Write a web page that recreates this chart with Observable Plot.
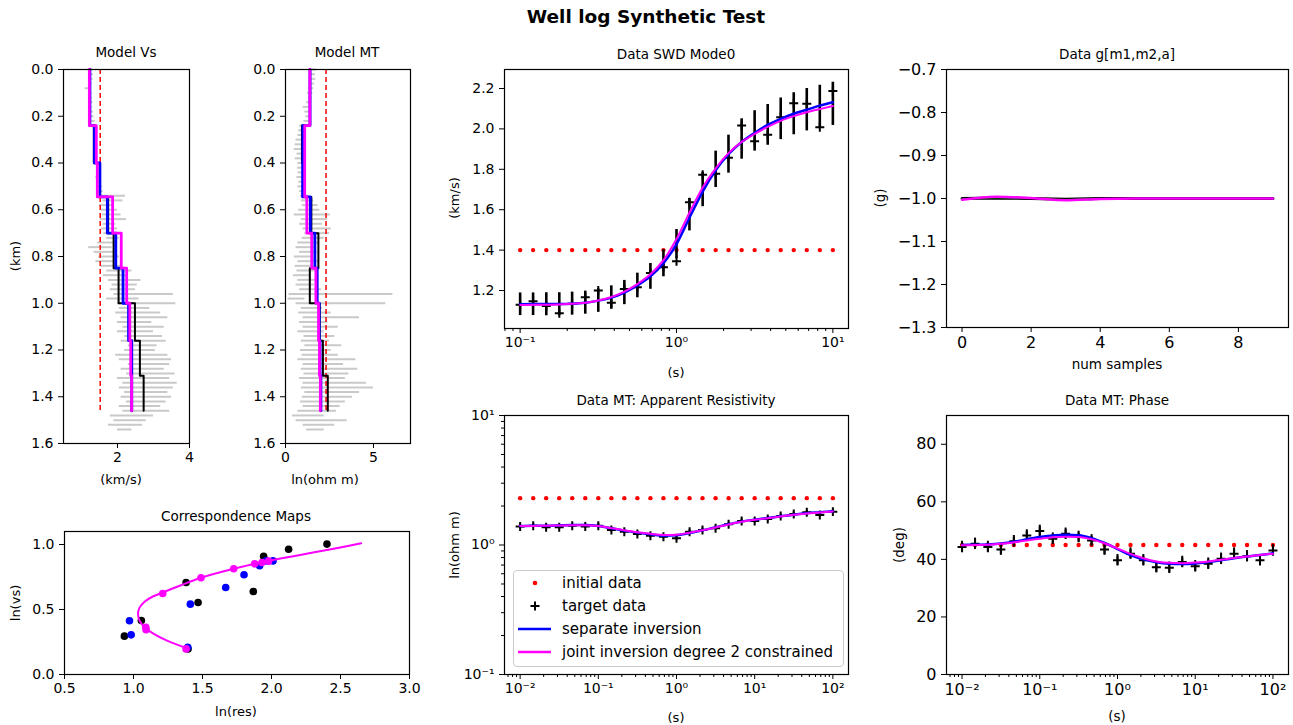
<!DOCTYPE html>
<html><head><meta charset="utf-8">
<script src="https://cdn.jsdelivr.net/npm/d3@7"></script>
<script src="https://cdn.jsdelivr.net/npm/@observablehq/plot@0.6"></script>
<style>
body{margin:0;background:#fff;font-family:"DejaVu Sans",sans-serif;}
#root{position:relative;width:1293px;height:725px;overflow:hidden;background:#fff;}
.t{position:absolute;white-space:nowrap;color:#000;line-height:1;font-family:"DejaVu Sans",sans-serif;}
svg{overflow:visible;}
</style></head><body><div id="root"></div>
<script>
// ---------- DATA ----------
// layer boundaries (km)
const layerDepths = [0, 0.24, 0.40, 0.545, 0.70, 0.85, 1.00, 1.16, 1.31, 1.46];
// true model (black), separate inversion (blue), joint inversion (magenta): ln(vs) and ln(res)
const trueLnVs  = [0.197, 0.295, 0.415, 0.554, 0.638, 0.708, 0.910, 0.964, 1.003];
const trueLnRes = [1.395, 0.934, 1.057, 1.468, 1.868, 1.381, 1.943, 2.124, 2.402];
const sepLnVs   = [0.210, 0.305, 0.413, 0.541, 0.669, 0.767, 0.836, 0.874, 0.874];
const sepLnRes  = [1.393, 0.983, 0.971, 1.412, 1.668, 1.801, 1.914, 1.962, 2.011];
const jointLnVs = [0.197, 0.344, 0.364, 0.623, 0.744, 0.813, 0.851, 0.862, 0.872];
const jointLnRes= [1.381, 1.091, 1.089, 1.212, 1.489, 1.726, 1.878, 1.931, 1.979];
const initVs = 1.52, initLnRes = 2.303, initMaxDepth = 1.46;

// well logs (grey): depth rows with low/high excursion
const logDepth = [0,0.02,0.04,0.06,0.08,0.10,0.12,0.14,0.16,0.18,0.20,0.22,0.24,0.26,0.28,0.30,0.32,0.34,0.36,0.38,0.40,0.42,0.44,0.46,0.48,0.50,0.52,0.54,0.56,0.58,0.60,0.62,0.64,0.66,0.68,0.70,0.72,0.74,0.76,0.78,0.80,0.82,0.84,0.86,0.88,0.90,0.92,0.94,0.96,0.98,1.00,1.02,1.04,1.06,1.08,1.10,1.12,1.14,1.16,1.18,1.20,1.22,1.24,1.26,1.28,1.30,1.32,1.34,1.36,1.38,1.40,1.42,1.44,1.46,1.48,1.50,1.52,1.54];
const vsLogLo = [1.28,1.27,1.26,1.22,1.10,1.20,1.24,1.25,1.26,1.24,1.27,1.28,1.32,1.34,1.33,1.35,1.36,1.35,1.33,1.36,1.42,1.44,1.45,1.40,1.46,1.45,1.48,1.55,1.60,1.50,1.55,1.58,1.52,1.60,1.55,1.62,1.70,1.45,1.20,1.35,1.48,1.40,1.55,1.70,1.60,1.75,1.85,1.80,1.90,1.70,2.00,2.05,1.95,2.10,2.00,2.15,2.00,2.20,2.10,2.30,2.20,1.95,2.05,2.30,2.10,2.25,2.00,2.15,2.05,2.20,2.10,2.25,2.05,2.15,1.80,1.90,1.75,2.00];
const vsLogHi = [1.32,1.33,1.32,1.30,1.28,1.30,1.30,1.32,1.30,1.33,1.35,1.38,1.40,1.40,1.42,1.44,1.42,1.45,1.44,1.46,1.52,1.55,1.53,1.56,1.55,1.58,1.60,2.22,2.15,1.90,2.00,2.10,2.25,1.95,2.00,2.12,2.05,2.00,1.85,1.95,2.05,1.90,2.10,2.40,2.30,2.65,2.55,2.50,3.55,2.60,3.62,2.90,3.20,3.40,2.95,3.30,3.00,3.25,3.35,3.10,3.05,3.40,3.50,3.45,3.30,3.60,3.45,3.66,3.55,3.40,3.50,3.35,3.20,3.45,3.00,2.80,2.70,2.40];
const mtLogLo = [1.45,1.40,1.42,1.35,1.30,1.25,1.30,1.20,1.00,1.10,1.15,1.05,0.80,0.75,0.70,0.60,0.55,0.50,0.65,0.55,0.70,0.68,0.72,0.65,0.75,0.70,0.80,0.85,0.90,0.95,0.75,0.50,0.90,0.80,1.00,1.10,0.95,0.70,0.60,0.80,0.50,0.70,0.55,0.65,0.45,0.70,0.60,0.80,0.20,0.15,0.60,0.90,0.75,1.00,0.80,1.00,0.70,1.05,0.90,1.10,0.85,0.95,0.70,1.00,0.90,1.05,0.80,1.00,0.90,1.10,0.95,0.85,1.00,0.70,0.40,0.60,1.00,1.20];
const mtLogHi = [1.75,1.70,1.72,1.65,1.60,1.55,1.50,1.45,1.35,1.40,1.45,1.35,1.00,0.98,0.95,0.95,0.90,0.92,0.95,0.90,1.00,1.05,1.02,1.08,1.10,1.05,1.10,1.30,1.60,1.85,1.95,2.55,2.40,2.10,2.60,2.50,2.20,1.90,1.70,1.80,1.60,1.85,1.50,1.80,1.40,1.90,1.65,2.05,6.10,1.10,5.70,2.10,2.60,4.20,2.40,3.00,2.20,2.80,2.50,3.20,2.60,3.00,4.00,3.30,4.10,3.60,3.40,4.60,5.00,4.20,3.80,3.40,3.10,2.90,2.20,3.50,2.80,2.20];

// Correspondence map fitted curve
const corrCurveRes = [1.39,1.243,1.15,1.085,1.046,1.033,1.042,1.08,1.14,1.21,1.34,1.489,1.726,1.967,2.208,2.45,2.65];
const corrCurveVs  = [0.20,0.26,0.31,0.36,0.41,0.46,0.51,0.56,0.60,0.63,0.685,0.744,0.813,0.872,0.92,0.967,1.01];

// SWD data
const swdPeriods = [0.1,0.121,0.147,0.178,0.215,0.261,0.316,0.383,0.464,0.562,0.681,0.825,1.0,1.21,1.47,1.78,2.15,2.61,3.16,3.83,4.64,5.62,6.81,8.25,10.0];
const swdTarget  = [1.129,1.147,1.123,1.088,1.134,1.167,1.200,1.139,1.208,1.216,1.287,1.315,1.345,1.637,1.773,1.778,1.857,2.017,1.939,1.971,2.058,2.127,2.125,2.008,2.187];
const swdBarMid  = [1.132,1.132,1.132,1.132,1.135,1.14,1.15,1.165,1.19,1.225,1.27,1.335,1.43,1.575,1.70,1.80,1.875,1.95,1.99,2.02,2.05,2.075,2.095,2.11,2.124];
const swdBarErr  = [0.056,0.056,0.057,0.057,0.057,0.057,0.058,0.058,0.060,0.061,0.064,0.067,0.072,0.080,0.085,0.090,0.094,0.100,0.100,0.101,0.103,0.104,0.105,0.106,0.107];
const swdSep     = [1.132,1.133,1.133,1.133,1.135,1.14,1.15,1.165,1.19,1.225,1.27,1.335,1.43,1.56,1.69,1.795,1.875,1.935,1.98,2.02,2.05,2.075,2.095,2.115,2.132];
const swdJoint   = [1.128,1.13,1.13,1.131,1.134,1.14,1.151,1.168,1.195,1.232,1.28,1.35,1.455,1.585,1.71,1.805,1.88,1.935,1.975,2.01,2.04,2.063,2.082,2.098,2.113];
const swdInit = 1.4;

// gravity-like data g[m1,m2,a]
const gSamples = [0,1,2,3,4,5,6,7,8,9];
const gTarget  = [-1.0,-0.999,-1.0,-1.002,-1.0,-1.0,-1.0,-1.0,-1.0,-1.0];
const gJoint   = [-1.003,-0.996,-0.999,-1.004,-1.001,-1.0,-1.0,-1.0,-1.0,-1.0];

// MT data
const mtPeriods = [0.01,0.0147,0.0215,0.0316,0.0464,0.0681,0.1,0.147,0.215,0.316,0.464,0.681,1,1.47,2.15,3.16,4.64,6.81,10,14.7,21.5,31.6,46.4,68.1,100];
const resTarget = [1.387,1.41,1.37,1.37,1.41,1.39,1.41,1.306,1.268,1.216,1.18,1.16,1.126,1.268,1.306,1.345,1.445,1.533,1.533,1.59,1.675,1.736,1.788,1.705,1.81];
const resSep    = [1.402,1.411,1.411,1.419,1.428,1.428,1.402,1.345,1.291,1.246,1.209,1.181,1.188,1.238,1.298,1.370,1.445,1.515,1.570,1.617,1.665,1.715,1.758,1.789,1.821];
const resJoint  = [1.40,1.405,1.41,1.415,1.42,1.42,1.40,1.35,1.30,1.255,1.22,1.195,1.20,1.245,1.30,1.365,1.44,1.51,1.565,1.61,1.66,1.71,1.75,1.785,1.815];
const resInit = 2.30;
const phaseTarget = [44.3,45.4,44.3,43.4,46.3,48.3,49.9,47.2,48.9,47.8,46.6,43.4,39.7,42.0,39.7,37.3,37.1,39.1,37.6,38.5,40.2,42.0,41.1,39.7,43.1];
const phaseSep    = [45.0,45.1,45.2,45.5,46.1,47.0,47.8,48.3,48.6,48.4,47.4,45.7,43.6,41.5,40.0,39.0,38.5,38.4,38.6,39.1,39.7,40.4,41.0,41.5,42.1];
const phaseJoint  = [44.9,45.0,45.1,45.4,45.9,46.6,47.2,47.7,47.9,47.8,47.0,45.6,43.8,41.9,40.4,39.3,38.8,38.7,38.9,39.3,39.9,40.5,41.0,41.5,42.0];
const phaseInit = 45;
const phaseErr = 2;
const resErrFrac = 0.035;

// ticks
const depthTicks = [0,0.2,0.4,0.6,0.8,1.0,1.2,1.4,1.6];
const vsTicks = [2,4];
const mtModelTicks = [0,5];
const corrXTicks = [0.5,1.0,1.5,2.0,2.5,3.0];
const corrYTicks = [0.0,0.5,1.0];
const swdYTicks = [1.2,1.4,1.6,1.8,2.0,2.2];
const swdXTicks = [0.1,1,10];
const swdXMinor = [0.08,0.09,0.2,0.3,0.4,0.5,0.6,0.7,0.8,0.9,2,3,4,5,6,7,8,9];
const gXTicks = [0,2,4,6,8];
const gYTicks = [-1.3,-1.2,-1.1,-1.0,-0.9,-0.8,-0.7];
const mtXTicks = [0.01,0.1,1,10,100];
const mtXMinor = [0.007,0.008,0.009,0.02,0.03,0.04,0.05,0.06,0.07,0.08,0.09,0.2,0.3,0.4,0.5,0.6,0.7,0.8,0.9,2,3,4,5,6,7,8,9,20,30,40,50,60,70,80,90];
const resYTicks = [0.1,1,10];
const resYMinor = [0.2,0.3,0.4,0.5,0.6,0.7,0.8,0.9,2,3,4,5,6,7,8,9];
const phaseYTicks = [0,20,40,60,80];

// ---------- HELPERS ----------
const root = document.getElementById("root");
const SUP = {"-":"⁻","0":"⁰","1":"¹","2":"²","3":"³"};
const pow10 = d => "10" + String(Math.round(Math.log10(d))).split("").map(c => SUP[c]).join("");
const f1 = d3.format(".1f");

function panel(frame, marks, scales, fontSize = 14) {
  const [l, t, r, b] = frame;
  const ml = 60, mr = 12, mt = 12, mb = 40;
  const svg = Plot.plot({
    width: (r - l) + ml + mr, height: (b - t) + mt + mb,
    marginLeft: ml, marginRight: mr, marginTop: mt, marginBottom: mb,
    style: {fontFamily: "DejaVu Sans", fontSize: fontSize + "px", background: "transparent", color: "black", overflow: "visible"},
    ...scales, marks
  });
  svg.style.position = "absolute";
  svg.style.left = (l - ml) + "px";
  svg.style.top = (t - mt) + "px";
  root.append(svg);
}
function text(str, x, y, size, opt = {}) {
  const d = document.createElement("div");
  d.className = "t";
  d.textContent = str;
  d.style.left = x + "px"; d.style.top = y + "px"; d.style.fontSize = size + "px";
  d.style.transform = "translate(-50%,-50%)" + (opt.rotate ? " rotate(-90deg)" : "");
  if (opt.bold) d.style.fontWeight = "bold";
  root.append(d);
}
const axX = (ticks, fmt, extra = {}) => Plot.axisX({ticks, tickFormat: fmt, tickSize: 5, tickPadding: 4, label: null, ...extra});
const axY = (ticks, fmt, extra = {}) => Plot.axisY({ticks, tickFormat: fmt, tickSize: 5, tickPadding: 5, label: null, ...extra});
const minorX = ticks => Plot.axisX({ticks, tickFormat: () => "", tickSize: 3, label: null});
const minorY = ticks => Plot.axisY({ticks, tickFormat: () => "", tickSize: 3, label: null});
const frameMark = () => Plot.frame({stroke: "black", strokeWidth: 1.2});

function stepProfile(vals) {
  const pts = [];
  vals.forEach((v, i) => { pts.push({x: v, y: layerDepths[i]}); pts.push({x: v, y: layerDepths[i + 1]}); });
  return pts;
}
const logRows = (lo, hi) => logDepth.map((d, i) => ({d, lo: lo[i], hi: hi[i]}));
const rows = (xs, ys) => xs.map((x, i) => ({x, y: ys[i]}));

// ---------- TITLES / LABELS ----------
text("Well log Synthetic Test", 646, 17, 18.5, {bold: true});
text("Model Vs", 126, 53, 13.5);
text("Model MT", 347, 53, 13.5);
text("Correspondence Maps", 236, 517, 13.5);
text("Data SWD Mode0", 676, 55, 13.5);
text("Data g[m1,m2,a]", 1117, 55, 13.5);
text("Data MT: Apparent Resistivity", 676, 401, 13.5);
text("Data MT: Phase", 1117, 401, 13.5);
text("(km/s)", 121, 479, 13);
text("ln(ohm m)", 325, 479, 13);
text("(km)", 15, 256, 13, {rotate: true});
text("ln(res)", 236, 711, 13);
text("ln(vs)", 15, 603, 13, {rotate: true});
text("(s)", 676, 372, 13);
text("(km/s)", 454, 198, 13, {rotate: true});
text("num samples", 1117, 365, 13.5);
text("(g)", 881, 198, 13.5, {rotate: true});
text("(s)", 676, 717, 13);
text("ln(ohm m)", 454, 545, 13, {rotate: true});
text("(s)", 1117, 717, 13.5);
text("(deg)", 900, 545, 13.5, {rotate: true});

// ---------- PANELS ----------
// Model Vs
panel([63, 69, 189, 443], [
  Plot.ruleY(logRows(vsLogLo, vsLogHi), {y: "d", x1: "lo", x2: "hi", stroke: "#c9c9c9", strokeWidth: 2}),
  Plot.ruleX([initVs], {y1: 0, y2: initMaxDepth, stroke: "red", strokeWidth: 1.5, strokeDasharray: "5,3"}),
  Plot.line(stepProfile(trueLnVs.map(Math.exp)), {x: "x", y: "y", stroke: "black", strokeWidth: 2}),
  Plot.line(stepProfile(sepLnVs.map(Math.exp)), {x: "x", y: "y", stroke: "blue", strokeWidth: 2.8}),
  Plot.line(stepProfile(jointLnVs.map(Math.exp)), {x: "x", y: "y", stroke: "magenta", strokeWidth: 2.8}),
  axX(vsTicks, d => String(d)), axY(depthTicks, f1), frameMark()
], {x: {type: "linear", domain: [0.5, 4]}, y: {domain: [0, 1.6], reverse: true}});

// Model MT
panel([285, 69, 410, 443], [
  Plot.ruleY(logRows(mtLogLo, mtLogHi), {y: "d", x1: "lo", x2: "hi", stroke: "#c9c9c9", strokeWidth: 2}),
  Plot.ruleX([initLnRes], {y1: 0, y2: initMaxDepth, stroke: "red", strokeWidth: 1.5, strokeDasharray: "5,3"}),
  Plot.line(stepProfile(trueLnRes), {x: "x", y: "y", stroke: "black", strokeWidth: 2}),
  Plot.line(stepProfile(sepLnRes), {x: "x", y: "y", stroke: "blue", strokeWidth: 2.8}),
  Plot.line(stepProfile(jointLnRes), {x: "x", y: "y", stroke: "magenta", strokeWidth: 2.8}),
  axX(mtModelTicks, d => String(d)), axY(depthTicks, f1), frameMark()
], {x: {type: "linear", domain: [0, 7.1]}, y: {domain: [0, 1.6], reverse: true}});

// Correspondence Maps
panel([64, 531, 409, 674], [
  Plot.dot(rows(trueLnRes, trueLnVs), {x: "x", y: "y", r: 3.8, fill: "black"}),
  Plot.dot(rows(sepLnRes, sepLnVs), {x: "x", y: "y", r: 3.8, fill: "blue"}),
  Plot.line(rows(corrCurveRes, corrCurveVs), {x: "x", y: "y", stroke: "magenta", strokeWidth: 2, curve: "catmull-rom"}),
  Plot.dot(rows(jointLnRes, jointLnVs), {x: "x", y: "y", r: 3.8, fill: "magenta"}),
  axX(corrXTicks, f1), axY(corrYTicks, f1), frameMark()
], {x: {domain: [0.5, 3.0]}, y: {domain: [0, 1.1]}});

// Data SWD Mode0
const swdRows = swdPeriods.map((p, i) => ({p, t: swdTarget[i], lo: swdBarMid[i] - swdBarErr[i], hi: swdBarMid[i] + swdBarErr[i], s: swdSep[i], j: swdJoint[i], init: swdInit}));
panel([504, 69, 848, 328], [
  Plot.dot(swdRows, {x: "p", y: "init", r: 2.2, fill: "red"}),
  Plot.ruleX(swdRows, {x: "p", y1: "lo", y2: "hi", stroke: "black", strokeWidth: 2.6}),
  Plot.dot(swdRows, {x: "p", y: "t", symbol: "plus", r: 3, stroke: "black", strokeWidth: 2}),
  Plot.line(swdRows, {x: "p", y: "s", stroke: "blue", strokeWidth: 2.5, curve: "monotone-x"}),
  Plot.line(swdRows, {x: "p", y: "j", stroke: "magenta", strokeWidth: 2, curve: "monotone-x"}),
  minorX(swdXMinor), axX(swdXTicks, pow10), axY(swdYTicks, f1), frameMark()
], {x: {type: "log", domain: [Math.pow(10, -1.1), Math.pow(10, 1.1)]}, y: {domain: [1.012, 2.294]}});

// Data g
panel([946, 69, 1288, 327], [
  Plot.line(rows(gSamples, gTarget), {x: "x", y: "y", stroke: "black", strokeWidth: 3}),
  Plot.line(rows(gSamples, gTarget), {x: "x", y: "y", stroke: "green", strokeWidth: 0.8}),
  Plot.line(rows(gSamples, gJoint), {x: "x", y: "y", stroke: "magenta", strokeWidth: 2.5, curve: "monotone-x"}),
  axX(gXTicks, d => String(d)), axY(gYTicks, f1), frameMark()
], {x: {domain: [-0.45, 9.45]}, y: {domain: [-1.3, -0.7]}}, 16);

// Data MT: Apparent Resistivity
const resRows = mtPeriods.map((p, i) => ({p, t: resTarget[i], lo: resTarget[i] * (1 - resErrFrac), hi: resTarget[i] * (1 + resErrFrac), s: resSep[i], j: resJoint[i], init: resInit}));
panel([504, 415, 848, 674], [
  Plot.dot(resRows, {x: "p", y: "init", r: 2.2, fill: "red"}),
  Plot.ruleX(resRows, {x: "p", y1: "lo", y2: "hi", stroke: "black", strokeWidth: 2}),
  Plot.dot(resRows, {x: "p", y: "t", symbol: "plus", r: 3, stroke: "black", strokeWidth: 2}),
  Plot.line(resRows, {x: "p", y: "s", stroke: "blue", strokeWidth: 2.5, curve: "monotone-x"}),
  Plot.line(resRows, {x: "p", y: "j", stroke: "magenta", strokeWidth: 2, curve: "monotone-x"}),
  minorX(mtXMinor), axX(mtXTicks, pow10), minorY(resYMinor), axY(resYTicks, pow10), frameMark()
], {x: {type: "log", domain: [Math.pow(10, -2.2), Math.pow(10, 2.2)]}, y: {type: "log", domain: [0.1, 10]}});

// Data MT: Phase
const phRows = mtPeriods.map((p, i) => ({p, t: phaseTarget[i], lo: phaseTarget[i] - phaseErr, hi: phaseTarget[i] + phaseErr, s: phaseSep[i], j: phaseJoint[i], init: phaseInit}));
panel([946, 415, 1288, 674], [
  Plot.dot(phRows, {x: "p", y: "init", r: 2.2, fill: "red"}),
  Plot.ruleX(phRows, {x: "p", y1: "lo", y2: "hi", stroke: "black", strokeWidth: 2}),
  Plot.dot(phRows, {x: "p", y: "t", symbol: "plus", r: 3, stroke: "black", strokeWidth: 2}),
  Plot.line(phRows, {x: "p", y: "s", stroke: "blue", strokeWidth: 2.5, curve: "monotone-x"}),
  Plot.line(phRows, {x: "p", y: "j", stroke: "magenta", strokeWidth: 2, curve: "monotone-x"}),
  minorX(mtXMinor), axX(mtXTicks, pow10), axY(phaseYTicks, d => String(d)), frameMark()
], {x: {type: "log", domain: [Math.pow(10, -2.2), Math.pow(10, 2.2)]}, y: {domain: [0, 90]}}, 16);

// ---------- LEGEND (inside resistivity panel) ----------
const legendItems = ["initial data", "target data", "separate inversion", "joint inversion degree 2 constrained"];
const lg = document.createElement("div");
lg.style.cssText = "position:absolute;left:513px;top:570px;width:331px;height:97px;border:1px solid #cccccc;border-radius:4px;background:rgba(255,255,255,0.85);box-sizing:border-box;";
lg.innerHTML = `<svg width="331" height="97" style="position:absolute;left:0;top:0;overflow:visible">
  <circle cx="21" cy="12" r="2.3" fill="red"/>
  <path d="M16.5,35H25.5M21,30.5V39.5" stroke="black" stroke-width="2" fill="none"/>
  <line x1="4" x2="37" y1="58" y2="58" stroke="blue" stroke-width="2.5"/>
  <line x1="4" x2="37" y1="81" y2="81" stroke="magenta" stroke-width="2.5"/>
</svg>`;
legendItems.forEach((s, i) => {
  const d = document.createElement("div");
  d.className = "t";
  d.textContent = s;
  d.style.left = "48px"; d.style.top = (12 + 23 * i) + "px"; d.style.fontSize = "15px";
  d.style.transform = "translateY(-50%)";
  lg.append(d);
});
root.append(lg);
</script></body></html>
